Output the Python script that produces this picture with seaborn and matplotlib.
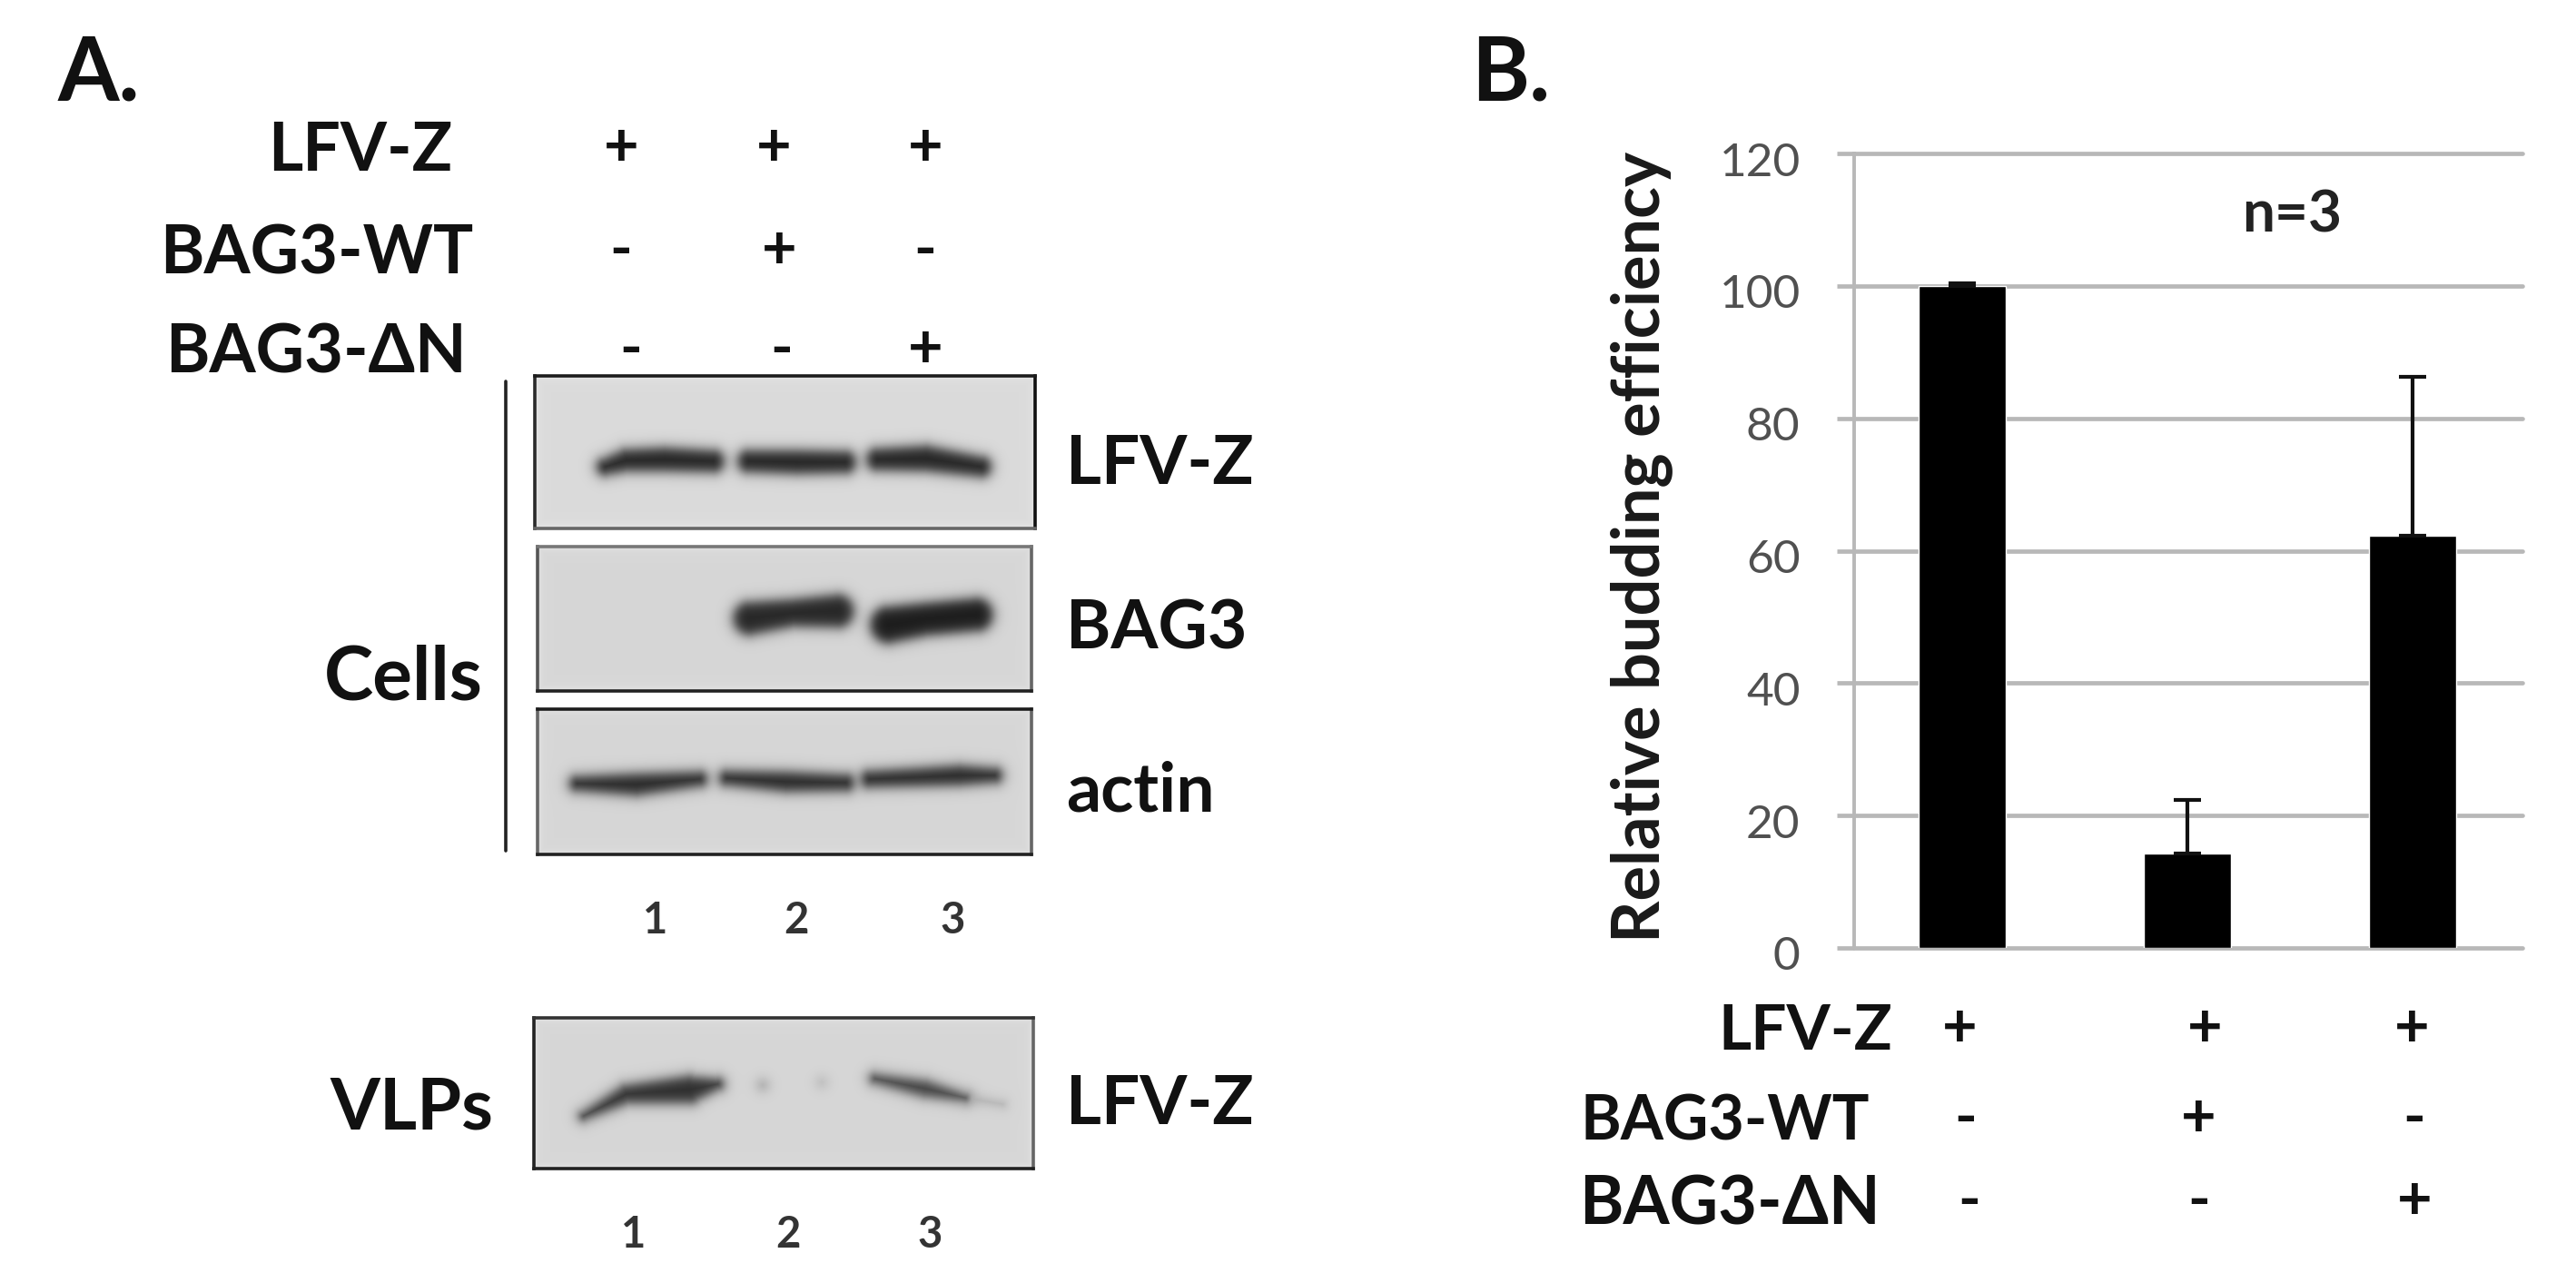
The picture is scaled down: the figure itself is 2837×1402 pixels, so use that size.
import numpy as np
import pandas as pd
import matplotlib
matplotlib.use("Agg")
import matplotlib.pyplot as plt
import seaborn as sns
from matplotlib.lines import Line2D
from matplotlib.transforms import ScaledTranslation

# Panel B values
lanes = ["1", "2", "3"]
efficiency = [100, 14.3, 62.2]
efficiency_err = [0.4, 8.0, 24.0]
y_ticks = [0, 20, 40, 60, 80, 100, 120]

# Treatment table shown in both panels
treatments = ["LFV-Z", "BAG3-WT", "BAG3-\u0394N"]
marks_row_1 = ["+", "+", "+"]
marks_row_2 = ["-", "+", "-"]
marks_row_3 = ["-", "-", "+"]

# Blot bands: x, y, half thickness (px inside each blot), darkness
blot_lfvz = [
    ([78, 101, 143, 196], [100, 93, 92, 94], [9, 12, 13, 12], 35),
    ([236, 289, 341], [94, 95, 95], [12, 13, 12], 35),
    ([378, 431, 491], [92, 91, 100], [12, 14, 11], 35),
]
blot_bag3 = [
    ([234, 281, 330], [79, 73, 71], [18, 15, 18], 38),
    ([387, 427, 483], [86, 80, 75], [20, 18, 18], 28),
]
blot_actin = [
    ([44, 109, 178], [82, 83, 77], [8, 12, 8], 38),
    ([209, 274, 339], [76, 80, 81], [8, 11, 9], 38),
    ([366, 419, 465, 503], [77, 75, 73, 73], [9, 10, 11, 8], 38),
]
blot_vlp = [
    ([55, 102, 171, 202], [108, 84, 79, 73], [4, 10, 15, 6], 45),
    ([252], [74], [6], 175),
    ([317], [71], [6], 190),
    ([376, 431, 475], [67, 78, 88], [5, 9, 4], 60),
    ([475, 516], [88, 95], [3, 2], 170),
]

W, H = 2837, 1402
DPI = 100
LABEL_SIZE = 53


def px_axes(fig, left, top, right, bottom):
    """Axes placed with reference pixel edges."""
    return fig.add_axes([left / W, 1 - bottom / H, (right - left) / W, (bottom - top) / H])


def px_text(fig, x, y, s, **kw):
    kw.setdefault("va", "center")
    kw.setdefault("color", "#111111")
    return fig.text(x / W, 1 - y / H, s, **kw)


def blot_image(width, height, bands, background):
    """Gray image of a blot with soft edged bands."""
    xx, yy = np.meshgrid(np.arange(width) + 0.5, np.arange(height) + 0.5)
    edge = np.minimum.reduce([xx, width - xx, yy, height - yy])
    img = background + 14 * np.exp(-edge / 4.0)
    for bx, by, bw, dark in bands:
        cover = np.zeros_like(img)
        if len(bx) == 1:
            d = np.hypot(xx - bx[0], yy - by[0])
            cover = 1 / (1 + np.exp((d - bw[0]) / 4.0))
        for i in range(len(bx) - 1):
            dx, dy = bx[i + 1] - bx[i], by[i + 1] - by[i]
            t = np.clip(((xx - bx[i]) * dx + (yy - by[i]) * dy) / (dx * dx + dy * dy), 0, 1)
            d = np.hypot(xx - bx[i] - t * dx, yy - by[i] - t * dy)
            hw = bw[i] + t * (bw[i + 1] - bw[i])
            cover = np.maximum(cover, 1 / (1 + np.exp((d - hw) / 4.0)))
        img = np.minimum(img, img - (img - dark) * cover)
    return img


def draw_blot(fig, frame, bands, background, spine_colors):
    left, top, right, bottom = frame
    ax = px_axes(fig, left, top, right, bottom)
    img = blot_image(right - left, bottom - top, bands, background)
    sns.heatmap(img, ax=ax, cmap="gray", vmin=0, vmax=255, cbar=False,
                xticklabels=False, yticklabels=False)
    for side, col in spine_colors.items():
        ax.spines[side].set_visible(True)
        ax.spines[side].set_color(col)
        ax.spines[side].set_linewidth(2.6)
    return ax


sns.set_theme(style="white")
plt.rcParams["font.family"] = ["Lato", "DejaVu Sans"]

fig = plt.figure(figsize=(W / DPI, H / DPI), dpi=DPI, facecolor="white")

# Panel letters
px_text(fig, 64, 82, "A.", fontsize=70, fontweight="bold")
px_text(fig, 1620, 82, "B.", fontsize=70, fontweight="bold")

# Panel A treatment table
marks = [marks_row_1, marks_row_2, marks_row_3]
a_label_right = [498, 521, 514]
a_row_y = [167, 280, 389]
a_mark_x = [[684, 852, 1019], [684, 858, 1019], [695, 861, 1019]]
for r, name in enumerate(treatments):
    px_text(fig, a_label_right[r], a_row_y[r], name, ha="right", fontsize=LABEL_SIZE, fontweight="bold")
    for c, m in enumerate(marks[r]):
        px_text(fig, a_mark_x[r][c], a_row_y[r] - 3, m, ha="center", fontsize=48, fontweight="bold")

# Panel A blots
draw_blot(fig, (589, 414, 1140, 582), blot_lfvz, 218,
          {"top": "#1c1c1c", "left": "#2a2a2a", "right": "#111111", "bottom": "#666666"})
draw_blot(fig, (592, 602, 1136, 761), blot_bag3, 214,
          {"top": "#777777", "left": "#555555", "right": "#666666", "bottom": "#222222"})
draw_blot(fig, (592, 781, 1136, 941), blot_actin, 214,
          {"top": "#1c1c1c", "left": "#666666", "right": "#666666", "bottom": "#222222"})
draw_blot(fig, (588, 1121, 1138, 1287), blot_vlp, 214,
          {"top": "#333333", "left": "#222222", "right": "#666666", "bottom": "#222222"})

# Blot side labels
for y, name in zip([511, 693, 872, 1216], ["LFV-Z", "BAG3", "actin", "LFV-Z"]):
    px_text(fig, 1174, y, name, ha="left", fontsize=54, fontweight="bold")
px_text(fig, 532, 747, "Cells", ha="right", fontsize=59, fontweight="bold")
px_text(fig, 543, 1221, "VLPs", ha="right", fontsize=57, fontweight="bold")

fig.add_artist(Line2D([557 / W, 557 / W], [1 - 420 / H, 1 - 937 / H], color="#222222", lw=2.6))

# Lane numbers
for x, name in zip([722, 877, 1049], lanes):
    px_text(fig, x, 1014, name, ha="center", fontsize=34, fontweight="bold", color="#333333")
for x, name in zip([698, 868, 1024], lanes):
    px_text(fig, x, 1360, name, ha="center", fontsize=34, fontweight="bold", color="#333333")

# Panel B chart
ax = px_axes(fig, 2042, 169, 2778, 1044)
df = pd.DataFrame({"lane": lanes, "efficiency": efficiency})
sns.barplot(data=df, x="lane", y="efficiency", color="black", saturation=1,
            width=0.39, errorbar=None, ax=ax, zorder=3)
ax.errorbar(range(len(lanes)), efficiency, yerr=[[0] * len(lanes), efficiency_err],
            fmt="none", ecolor="#111111", elinewidth=3, capsize=11, capthick=3, zorder=4)
ax.set_xlim(-0.48, 2.488)
ax.set_ylim(0, 120)
ax.set_yticks(y_ticks)
ax.set_xticks([])
ax.set_xlabel("")
ax.set_ylabel("Relative budding efficiency", fontsize=52, fontweight="bold", color="#1a1a1a")
ax.yaxis.set_label_coords((1842 - 2042) / 736, 0.505)
ax.set_axisbelow(True)
ax.grid(axis="y", color="#b8b8b8", lw=3.4)
for g in ax.get_ygridlines():
    g.set_clip_on(False)
for side in ["top", "right", "bottom"]:
    ax.spines[side].set_visible(False)
ax.spines["left"].set_color("#b8b8b8")
ax.spines["left"].set_linewidth(2.8)
ax.tick_params(axis="y", length=14, width=3.4, color="#b8b8b8", pad=40 / 1.39,
               labelsize=37, labelcolor="#505050", left=True)
shift = ScaledTranslation(0, -6 / DPI, fig.dpi_scale_trans)
for lab in ax.get_yticklabels():
    lab.set_transform(lab.get_transform() + shift)
px_text(fig, 2524, 237, "n=3", ha="center", fontsize=46, fontweight="bold", color="#222222")

# Panel B treatment table
b_label_right = [2084, 2059, 2071]
b_label_size = [50, 49, 53]
b_row_y = [1137, 1236, 1327]
b_mark_x = [[2158, 2428, 2656], [2165, 2421, 2659], [2169, 2422, 2659]]
for r, name in enumerate(treatments):
    px_text(fig, b_label_right[r], b_row_y[r], name, ha="right", fontsize=b_label_size[r], fontweight="bold")
    for c, m in enumerate(marks[r]):
        px_text(fig, b_mark_x[r][c], b_row_y[r] - 3, m, ha="center", fontsize=48, fontweight="bold")

fig.savefig("out.png", dpi=DPI, facecolor="white")
